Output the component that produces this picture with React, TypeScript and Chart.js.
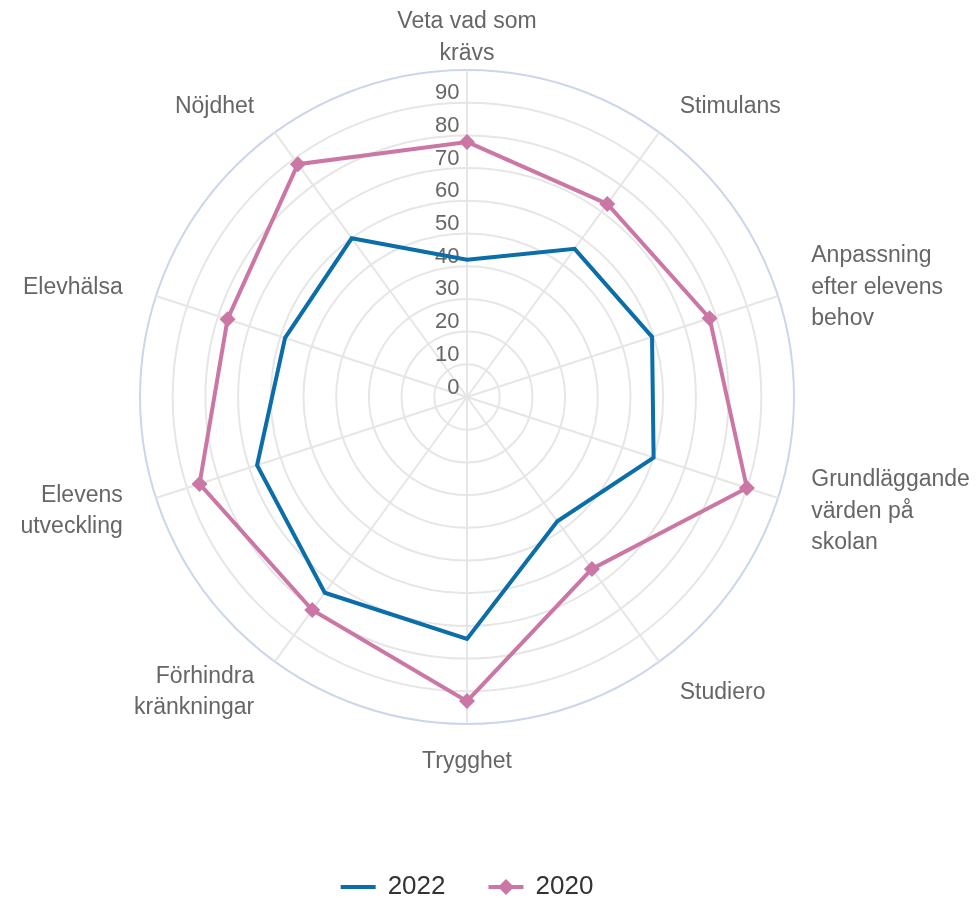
import React, { useEffect, useRef } from "react";
import { Chart, registerables } from "chart.js";

Chart.register(...registerables);

const categories: string[][] = [
  ["Veta vad som", "krävs"],
  ["Stimulans"],
  ["Anpassning", "efter elevens", "behov"],
  ["Grundläggande", "värden på", "skolan"],
  ["Studiero"],
  ["Trygghet"],
  ["Förhindra", "kränkningar"],
  ["Elevens", "utveckling"],
  ["Elevhälsa"],
  ["Nöjdhet"],
];

const series2022: number[] = [42, 56, 59.5, 60, 47, 74, 74, 67.5, 58.5, 60];
const series2020: number[] = [78, 73, 78, 90, 65, 93, 80.5, 86, 77, 88];

const tickValues: number[] = [0, 10, 20, 30, 40, 50, 60, 70, 80, 90];
const tickLabels: string[] = ["0", "10", "20", "30", "40", "50", "60", "70", "80", "90"];

const seriesNames: string[] = ["2022", "2020"];
const COLOR_2022 = "#0b6ea9";
const COLOR_2020 = "#cb77a6";
const FONT = '"Liberation Sans", Arial, Helvetica, sans-serif';

const labelsPlugin = {
  id: "customLabels",
  beforeDatasetsDraw(chart: any) {
    const scale = chart.scales.r;
    const ctx = chart.ctx;
    ctx.save();
    // tick labels
    ctx.font = `22px ${FONT}`;
    ctx.fillStyle = "#666666";
    ctx.textAlign = "right";
    ctx.textBaseline = "middle";
    tickValues.forEach((v, i) => {
      const d = scale.getDistanceFromCenterForValue(v);
      ctx.fillText(tickLabels[i], scale.xCenter - 7.5, scale.yCenter - d - 9.5);
    });
    // point labels
    ctx.font = `23px ${FONT}`;
    const lh = 31.5;
    categories.forEach((lines, i) => {
      const p = scale.getPointPosition(i, scale.drawingArea + 35);
      const c = Math.cos(p.angle);
      ctx.textAlign = c > 0.05 ? "left" : c < -0.05 ? "right" : "center";
      const y0 = p.y + 2.5 - ((lines.length - 1) * lh) / 2;
      lines.forEach((ln, j) => ctx.fillText(ln, p.x, y0 + j * lh));
    });
    ctx.restore();
  },
  afterDraw(chart: any) {
    const scale = chart.scales.r;
    const ctx = chart.ctx;
    ctx.save();
    ctx.font = `26px ${FONT}`;
    ctx.textBaseline = "middle";
    ctx.textAlign = "left";
    const sym = 35;
    const gap = 12;
    const itemGap = 43;
    const w0 = ctx.measureText(seriesNames[0]).width;
    const w1 = ctx.measureText(seriesNames[1]).width;
    const total = sym + gap + w0 + itemGap + sym + gap + w1;
    let x = scale.xCenter - total / 2;
    const y = 887;
    // 2022
    ctx.strokeStyle = COLOR_2022;
    ctx.lineWidth = 4;
    ctx.beginPath();
    ctx.moveTo(x, y);
    ctx.lineTo(x + sym, y);
    ctx.stroke();
    ctx.fillStyle = "#333333";
    ctx.fillText(seriesNames[0], x + sym + gap, y);
    x += sym + gap + w0 + itemGap;
    // 2020
    ctx.strokeStyle = COLOR_2020;
    ctx.beginPath();
    ctx.moveTo(x, y);
    ctx.lineTo(x + sym, y);
    ctx.stroke();
    const cx = x + sym / 2;
    const r = 8;
    ctx.fillStyle = COLOR_2020;
    ctx.beginPath();
    ctx.moveTo(cx, y - r);
    ctx.lineTo(cx + r, y);
    ctx.lineTo(cx, y + r);
    ctx.lineTo(cx - r, y);
    ctx.closePath();
    ctx.fill();
    ctx.fillStyle = "#333333";
    ctx.fillText(seriesNames[1], x + sym + gap, y);
    ctx.restore();
  },
};

export default function App() {
  const canvasRef = useRef<HTMLCanvasElement | null>(null);

  useEffect(() => {
    document.body.style.margin = "0";
    const canvas = canvasRef.current;
    if (!canvas) return;
    const chart = new Chart(canvas, {
      type: "radar",
      data: {
        labels: categories.map((c) => c.join(" ")),
        datasets: [
          {
            label: seriesNames[0],
            data: series2022,
            borderColor: COLOR_2022,
            backgroundColor: COLOR_2022,
            borderWidth: 4,
            pointRadius: 0,
            pointHoverRadius: 0,
            fill: false,
            order: 1,
          },
          {
            label: seriesNames[1],
            data: series2020,
            borderColor: COLOR_2020,
            backgroundColor: COLOR_2020,
            borderWidth: 4,
            pointStyle: "rectRot",
            pointRadius: 8,
            pointBorderWidth: 0,
            pointBackgroundColor: COLOR_2020,
            fill: false,
            order: 0,
          },
        ],
      },
      options: {
        animation: false,
        responsive: false,
        devicePixelRatio: window.devicePixelRatio || 1,
        layout: {
          padding: { left: 140, right: 183, top: 70, bottom: 174 },
        },
        plugins: {
          legend: { display: false },
          tooltip: { enabled: false },
        },
        scales: {
          r: {
            min: 0,
            max: 100,
            startAngle: 0,
            ticks: { display: false, stepSize: 10 },
            pointLabels: { display: false },
            grid: {
              circular: true,
              lineWidth: 2,
              color: (ctx: any) => (ctx.tick && ctx.tick.value === 100 ? "#ccd6eb" : "#e6e6e6"),
            },
            angleLines: { color: "#e6e6e6", lineWidth: 2 },
          },
        },
      },
      plugins: [labelsPlugin],
    });
    return () => chart.destroy();
  }, []);

  return (
    <div style={{ width: 977, height: 898 }}>
      <canvas ref={canvasRef} width={977} height={898} style={{ width: 977, height: 898 }} />
    </div>
  );
}
